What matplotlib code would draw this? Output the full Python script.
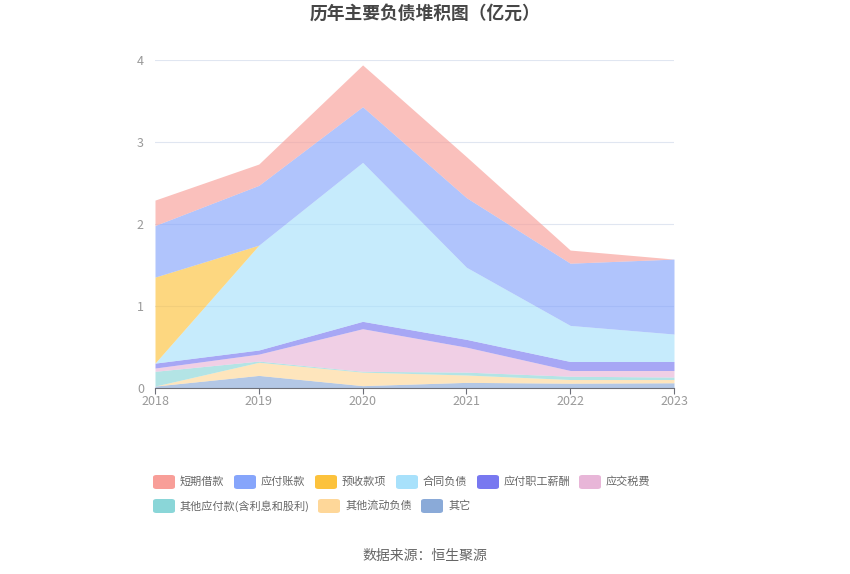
import matplotlib
matplotlib.use("Agg")
import matplotlib.pyplot as plt
from matplotlib.patches import FancyBboxPatch
import numpy as np

plt.rcParams['font.family'] = ['Noto Sans CJK SC', 'DejaVu Sans']

years = ['2018', '2019', '2020', '2021', '2022', '2023']

# series in legend order (stacked bottom-up in reverse order)
short_loans = [0.31, 0.26, 0.51, 0.50, 0.16, 0.0]
accounts_payable = [0.63, 0.73, 0.68, 0.85, 0.76, 0.915]
advance_receipts = [1.05, 0.0, 0.0, 0.0, 0.0, 0.0]
contract_liab = [0.0, 1.28, 1.94, 0.88, 0.44, 0.335]
staff_pay = [0.06, 0.05, 0.09, 0.095, 0.11, 0.11]
taxes = [0.04, 0.085, 0.52, 0.305, 0.07, 0.08]
other_payables = [0.18, 0.015, 0.01, 0.035, 0.04, 0.03]
other_current = [0.0, 0.16, 0.165, 0.09, 0.045, 0.04]
others = [0.02, 0.15, 0.025, 0.065, 0.055, 0.06]

names = ['短期借款', '应付账款', '预收款项', '合同负债', '应付职工薪酬',
         '应交税费', '其他应付款(含利息和股利)', '其他流动负债', '其它']
series = [short_loans, accounts_payable, advance_receipts, contract_liab,
          staff_pay, taxes, other_payables, other_current, others]
colors = ['#f89e98', '#86a5fb', '#fcc23c', '#a8e1fb', '#7878f0',
          '#e8b6d8', '#8ad6d8', '#fed799', '#8aaad8']

fig = plt.figure(figsize=(8.5, 5.74), dpi=100)
ax = fig.add_axes([155 / 850, 1 - 387.7 / 574, (674 - 155) / 850, (387.7 - 60) / 574])

x = np.arange(len(years))
base = np.zeros(len(years))
for name, vals, col in reversed(list(zip(names, series, colors))):
    top = base + np.array(vals)
    ax.fill_between(x, base, top, color=col, alpha=0.65, linewidth=0)
    base = top

ax.set_xlim(0, len(years) - 1)
ax.set_ylim(0, 4)
ax.set_yticks([0, 1, 2, 3, 4])
ax.set_xticks(x)
ax.set_xticklabels(years)
ax.grid(axis='y', color='#e0e6f1', linewidth=0.8)
ax.set_axisbelow(True)
for s in ['top', 'right', 'left']:
    ax.spines[s].set_visible(False)
ax.spines['bottom'].set_color('#6e7079')
ax.tick_params(axis='y', length=0, labelsize=9, labelcolor='#999999', pad=8)
ax.tick_params(axis='x', length=4, color='#6e7079', labelsize=9, labelcolor='#999999', pad=1)

fig.text(0.5, 1 - 14 / 574, '历年主要负债堆积图（亿元）', ha='center', va='center',
         fontsize=12.8, fontweight='bold', color='#464646')

# legend laid out like the original (flow rows)
leg_pos = [(153, 482), (234, 482), (315, 482), (396, 482), (477, 482), (579, 482),
           (153, 506), (318, 506), (421, 506)]
for (px, py), name, col in zip(leg_pos, names, colors):
    w, h = 22, 14
    patch = FancyBboxPatch((px / 850, 1 - (py + h / 2) / 574), w / 850, h / 574,
                           boxstyle='round,pad=0,rounding_size=0.004',
                           transform=fig.transFigure, facecolor=col,
                           edgecolor='none', figure=fig)
    fig.patches.append(patch)
    fig.text((px + w + 5) / 850, 1 - py / 574, name, ha='left', va='center',
             fontsize=8, color='#666666')

fig.text(0.5, 1 - 556 / 574, '数据来源：恒生聚源', ha='center', va='center',
         fontsize=10, color='#666666')

fig.savefig('out.png', dpi=100)
